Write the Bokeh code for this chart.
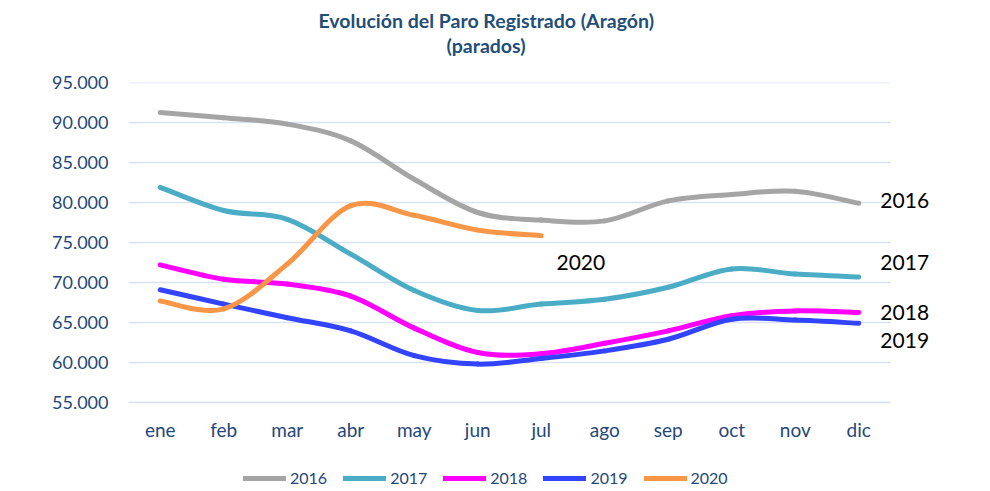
import numpy as np
from bokeh.plotting import figure
from bokeh.layouts import column
from bokeh.models import (ColumnDataSource, FixedTicker, Legend, LegendItem,
                          Title, Range1d)
from bokeh.core.properties import value
from bokeh.embed import file_html
from bokeh.resources import INLINE

# ---------------- data ----------------
months = ["ene", "feb", "mar", "abr", "may", "jun", "jul", "ago", "sep", "oct", "nov", "dic"]
years = ["2016", "2017", "2018", "2019", "2020"]
v2016 = [91250, 90600, 89800, 87700, 82900, 78750, 77800, 77700, 80200, 81000, 81400, 79900]
v2017 = [81900, 79000, 77900, 73550, 69000, 66500, 67300, 67900, 69400, 71700, 71050, 70700]
v2018 = [72200, 70400, 69800, 68300, 64300, 61250, 61100, 62400, 63950, 65850, 66450, 66250]
v2019 = [69100, 67300, 65600, 63950, 60850, 59800, 60500, 61450, 62900, 65400, 65300, 64900]
v2020 = [67700, 66700, 72300, 79600, 78400, 76550, 75850]
y_ticks = [55000, 60000, 65000, 70000, 75000, 80000, 85000, 90000, 95000]

# end-of-line labels (annotation positions, in data units)
label_text = ["2016", "2017", "2018", "2019", "2020"]
label_x = [11.34, 11.34, 11.34, 11.34, 6.24]
label_y = [80200, 72450, 66300, 62700, 72450]

# ---------------- style ----------------
colors = ["#A5A5A5", "#4BACC6", "#FF00FF", "#3344FF", "#F79646"]
FONT = "Lato"
NAVY = "#24477A"
TITLE_C = "#1F4E79"
GRID_C = "#D9E2F3"

x_lo = -0.5
x_hi = len(months) - 0.5

p = figure(frame_width=812, frame_height=320, output_backend="svg",
           toolbar_location=None,
           x_range=Range1d(x_lo, x_lo + 812 / 63.5), y_range=Range1d(55000, 95000),
           min_border_left=128, min_border_right=50, min_border_top=82,
           min_border_bottom=53)
p.outline_line_color = None
p.background_fill_color = "white"
p.border_fill_color = "white"

# horizontal gridlines, limited to the category span
p.xgrid.visible = False
p.ygrid.visible = False
p.segment(x0=[x_lo] * len(y_ticks), x1=[x_hi] * len(y_ticks), y0=y_ticks,
          y1=y_ticks, line_color=GRID_C, line_width=1.5)


def smooth_segments(vals):
    """Bezier control points (Excel-like smoothing) from the data points."""
    xs = np.arange(len(vals), dtype=float)
    ys = np.asarray(vals, dtype=float)
    n = len(vals)
    x0, y0, x1, y1, cx0, cy0, cx1, cy1 = ([] for _ in range(8))
    for i in range(n - 1):
        pm = max(i - 1, 0)
        pp = min(i + 2, n - 1)
        x0.append(xs[i]); y0.append(ys[i])
        x1.append(xs[i + 1]); y1.append(ys[i + 1])
        cx0.append(xs[i] + (xs[i + 1] - xs[pm]) / 6.0)
        cy0.append(ys[i] + (ys[i + 1] - ys[pm]) / 6.0)
        cx1.append(xs[i + 1] - (xs[pp] - xs[i]) / 6.0)
        cy1.append(ys[i + 1] - (ys[pp] - ys[i]) / 6.0)
    return dict(x0=x0, y0=y0, x1=x1, y1=y1, cx0=cx0, cy0=cy0, cx1=cx1, cy1=cy1)


for yr, vals, col in zip(years, [v2016, v2017, v2018, v2019, v2020], colors):
    src = ColumnDataSource(smooth_segments(vals))
    p.bezier(x0="x0", y0="y0", x1="x1", y1="y1", cx0="cx0", cy0="cy0",
             cx1="cx1", cy1="cy1", source=src, line_color=col,
             line_width=5, line_cap="round", line_join="round")

p.text(x=label_x, y=label_y, text=label_text, text_font=value(FONT),
       text_font_size="21px", text_color="black", text_align="left",
       text_baseline="middle")

# ---------------- axes ----------------
p.yaxis.ticker = FixedTicker(ticks=y_ticks)
p.yaxis.major_label_overrides = {t: f"{t:,}".replace(",", ".") for t in y_ticks}
p.yaxis.axis_line_color = None
p.yaxis.major_tick_line_color = None
p.yaxis.minor_tick_line_color = None
p.yaxis.major_tick_out = 0
p.yaxis.major_tick_in = 0
p.yaxis.major_label_standoff = 20
p.yaxis.major_label_text_font = FONT
p.yaxis.major_label_text_font_size = "18px"
p.yaxis.major_label_text_color = NAVY

p.xaxis.ticker = FixedTicker(ticks=list(range(len(months))))
p.xaxis.major_label_overrides = {i: m for i, m in enumerate(months)}
p.xaxis.bounds = (x_lo, x_hi)
p.xaxis.axis_line_color = GRID_C
p.xaxis.axis_line_width = 1.5
p.xaxis.major_tick_line_color = None
p.xaxis.minor_tick_line_color = None
p.xaxis.major_tick_out = 0
p.xaxis.major_tick_in = 0
p.xaxis.major_label_standoff = 15
p.xaxis.major_label_text_font = FONT
p.xaxis.major_label_text_font_size = "19px"
p.xaxis.major_label_text_color = NAVY

# ---------------- titles ----------------
p.add_layout(Title(text=" ", text_font_size="10px", standoff=13), "above")
p.add_layout(Title(text="(parados)", align="left", offset=318,
                   text_font=FONT, text_font_size="19.5px", text_font_style="bold",
                   text_color=TITLE_C, standoff=0), "above")
p.add_layout(Title(text="Evolución del Paro Registrado (Aragón)", align="left",
                   offset=190, text_font=FONT, text_font_size="19.5px",
                   text_font_style="bold", text_color=TITLE_C, standoff=0),
             "above")

# ---------------- legend strip (separate figure below the chart) ----------------
leg = figure(width=990, height=36, output_backend="svg", toolbar_location=None,
             x_range=Range1d(0, 1), y_range=Range1d(0, 1), min_border=0,
             min_border_left=0, min_border_right=0, min_border_top=0,
             min_border_bottom=0)
leg.axis.visible = False
leg.grid.visible = False
leg.outline_line_color = None
leg_items = []
for yr, col in zip(years, colors):
    # legend proxy: a line with no drawable point (NaN), only its style is shown
    r = leg.line(x=[float("nan")], y=[float("nan")], line_color=col,
                 line_width=5, line_cap="round")
    leg_items.append(LegendItem(label=yr, renderers=[r]))
legend = Legend(items=leg_items, orientation="horizontal", location=(115, 4),
                glyph_width=43, glyph_height=16, label_standoff=4, spacing=16,
                label_text_font=FONT, label_text_font_size="16px",
                label_text_color=NAVY, border_line_alpha=0,
                background_fill_alpha=0, padding=0, margin=0)
leg.add_layout(legend, "center")

layout = column(p, leg, spacing=0)
open("out.html", "w").write(file_html(layout, INLINE))
